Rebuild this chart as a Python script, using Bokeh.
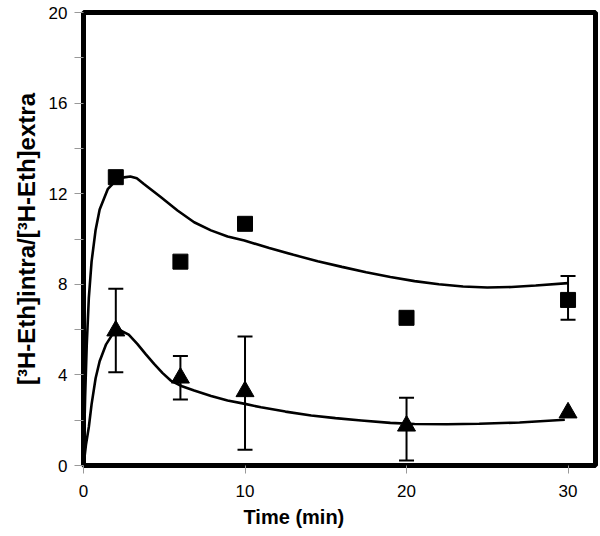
from bokeh.plotting import figure
from bokeh.models import Range1d, FixedTicker, ColumnDataSource, Whisker, TeeHead, Title
from bokeh.embed import file_html
from bokeh.resources import INLINE

# Data
sq_x = [2, 6, 10, 20, 30]
sq_y = [12.73, 9.0, 10.67, 6.52, 7.31]
sq_err_x = [30]
sq_err_lo = [6.43]
sq_err_hi = [8.37]

tri_x = [2, 6, 10, 20, 30]
tri_y = [5.95, 3.87, 3.27, 1.75, 2.33]
tri_err_x = [2, 6, 10, 20]
tri_err_lo = [4.12, 2.91, 0.69, 0.22]
tri_err_hi = [7.8, 4.83, 5.70, 2.99]

fit_sq_x = [0, 0.1, 0.2, 0.33, 0.5, 0.75, 1.0, 1.5, 2.0, 2.5, 2.9, 3.3, 3.74, 4.78,
            5.82, 6.85, 7.89, 8.92, 9.96, 11.5, 13.0, 14.5, 16.0, 17.5, 19.0, 20.5,
            22.0, 23.5, 25.0, 26.5, 28.0, 30.0]
fit_sq_y = [0, 3.0, 5.3, 7.4, 9.0, 10.4, 11.3, 12.2, 12.58, 12.72, 12.76, 12.68, 12.43,
            11.85, 11.26, 10.74, 10.38, 10.11, 9.93, 9.6, 9.3, 9.02, 8.77, 8.53,
            8.32, 8.14, 8.0, 7.9, 7.86, 7.88, 7.95, 8.05]

fit_tri_x = [0, 0.15, 0.33, 0.5, 0.75, 1.0, 1.4, 1.8, 2.29, 2.8, 3.33, 3.85, 4.37, 4.9,
             5.4, 6.1, 6.85, 7.9, 8.92, 10.0, 10.99, 12.5, 14.1, 15.6, 17.2, 19.0,
             20.5, 22.5, 24.5, 27.0, 29.8]
fit_tri_y = [0, 0.9, 1.7, 2.7, 3.85, 4.6, 5.35, 5.8, 5.96, 5.78, 5.37, 4.92, 4.49, 4.08,
             3.75, 3.5, 3.31, 3.07, 2.87, 2.72, 2.57, 2.38, 2.21, 2.09, 1.99, 1.88,
             1.83, 1.82, 1.84, 1.9, 2.02]

x_ticks = [0, 10, 20, 30]
y_ticks = [0, 4, 8, 12, 16, 20]
y_minor = [2, 6, 10, 14, 18]

x_title = "Time (min)"
y_title = "[³H-Eth]intra/[³H-Eth]extra"

p = figure(width=600, height=536, output_backend="svg", toolbar_location=None,
           x_range=Range1d(0, 31.7), y_range=Range1d(0, 20),
           min_border_left=83, min_border_right=5, min_border_top=12, min_border_bottom=71)
p.background_fill_color = "white"
p.border_fill_color = "white"
p.outline_line_color = "black"
p.outline_line_width = 5
p.xgrid.visible = False
p.ygrid.visible = False

p.xaxis.ticker = FixedTicker(ticks=x_ticks)
p.yaxis.ticker = FixedTicker(ticks=y_ticks, minor_ticks=y_minor)

for ax in (p.xaxis, p.yaxis):
    ax.axis_line_color = None
    ax.major_tick_line_color = "#999999"
    ax.minor_tick_line_color = "#999999"
    ax.major_tick_in = 0
    ax.minor_tick_in = 0
    ax.major_label_text_font = "Liberation Sans"
    ax.major_label_text_font_size = "17px"
    ax.major_label_text_color = "black"
    ax.axis_label_text_font = "Liberation Sans"
    ax.axis_label_text_font_style = "bold"
    ax.axis_label_text_color = "black"

p.xaxis.major_tick_out = 8
p.xaxis.minor_tick_out = 0
p.xaxis.major_label_standoff = 11

p.yaxis.major_tick_out = 9
p.yaxis.minor_tick_out = 9
p.yaxis.major_label_standoff = 7
p.yaxis.axis_label_standoff = 6
p.yaxis.axis_label = y_title
p.yaxis.axis_label_text_font_size = "24px"

# x-axis title, offset to the left like the original
p.add_layout(Title(text=x_title, align="left", offset=160, standoff=9,
                   text_font="Liberation Sans", text_font_style="bold",
                   text_font_size="20px", text_color="black"), "below")

p.line(fit_sq_x, fit_sq_y, line_color="black", line_width=2.6)
p.line(fit_tri_x, fit_tri_y, line_color="black", line_width=2.6)

src_sq = ColumnDataSource(dict(x=sq_err_x, lo=sq_err_lo, hi=sq_err_hi))
src_tri = ColumnDataSource(dict(x=tri_err_x, lo=tri_err_lo, hi=tri_err_hi))
for src in (src_sq, src_tri):
    w = Whisker(source=src, base="x", lower="lo", upper="hi", dimension="height",
                line_color="black", line_width=2,
                upper_head=TeeHead(size=15, line_width=2, line_color="black"),
                lower_head=TeeHead(size=15, line_width=2, line_color="black"))
    p.add_layout(w)

p.scatter(sq_x, sq_y, marker="square", size=15, fill_color="black", line_color="black")
p.scatter(tri_x, tri_y, marker="triangle", size=18, fill_color="black", line_color="black")

open("out.html", "w").write(file_html(p, INLINE))
